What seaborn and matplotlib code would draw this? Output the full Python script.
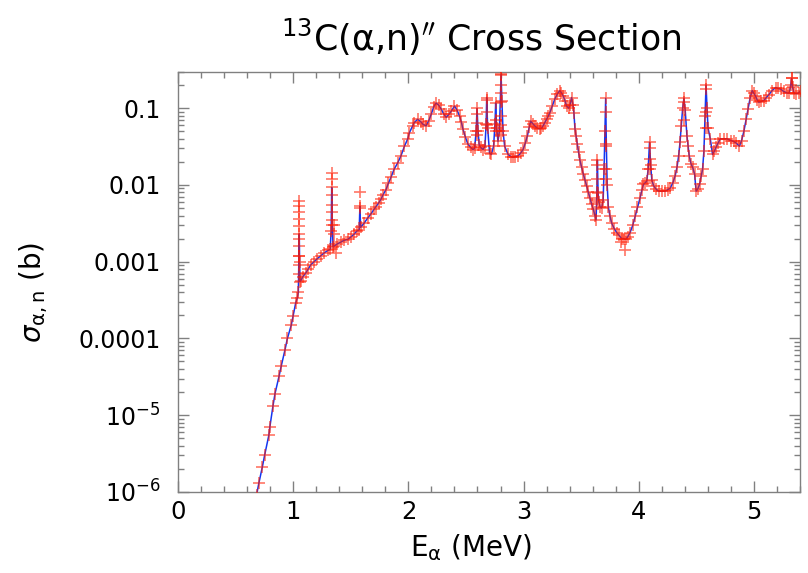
import matplotlib
matplotlib.use("Agg")
import matplotlib.pyplot as plt
import numpy as np
import seaborn as sns
from matplotlib.ticker import FixedLocator, FixedFormatter, LogLocator, MultipleLocator, NullFormatter

# R-matrix fit curve (E in MeV, sigma in barn)
fit_energy = [
    0.68, 0.70, 0.73, 0.75, 0.787, 0.796, 0.822, 0.84, 0.875, 0.895,
    0.927, 0.948, 0.982, 0.997, 1.02, 1.035, 1.043, 1.048, 1.051, 1.054,
    1.058, 1.064, 1.08, 1.107, 1.13, 1.151, 1.18, 1.209, 1.24, 1.267,
    1.30, 1.32, 1.328, 1.333, 1.338, 1.345, 1.354, 1.38, 1.412, 1.44,
    1.471, 1.50, 1.529, 1.55, 1.572, 1.578, 1.584, 1.616, 1.645, 1.674,
    1.70, 1.717, 1.74, 1.761, 1.78, 1.805, 1.825, 1.848, 1.875, 1.907,
    1.935, 1.965, 1.994, 2.008, 2.037, 2.05, 2.08, 2.11, 2.125, 2.153,
    2.175, 2.197, 2.22, 2.24, 2.262, 2.284, 2.305, 2.328, 2.35, 2.371,
    2.40, 2.422, 2.444, 2.46, 2.473, 2.495, 2.517, 2.54, 2.56, 2.575,
    2.588, 2.596, 2.605, 2.615, 2.627, 2.648, 2.665, 2.675, 2.68, 2.688,
    2.705, 2.72, 2.74, 2.752, 2.758, 2.766, 2.778, 2.79, 2.80, 2.805,
    2.812, 2.822, 2.836, 2.866, 2.89, 2.909, 2.93, 2.953, 2.975, 2.996,
    3.015, 3.034, 3.05, 3.063, 3.08, 3.098, 3.12, 3.141, 3.156, 3.17,
    3.185, 3.20, 3.215, 3.228, 3.25, 3.272, 3.295, 3.316, 3.33, 3.345,
    3.36, 3.374, 3.394, 3.405, 3.418, 3.43, 3.438, 3.447, 3.457, 3.467,
    3.478, 3.49, 3.505, 3.52, 3.535, 3.548, 3.562, 3.577, 3.592, 3.607,
    3.62, 3.63, 3.636, 3.642, 3.648, 3.655, 3.665, 3.679, 3.692, 3.70,
    3.707, 3.714, 3.72, 3.727, 3.737, 3.75, 3.766, 3.788, 3.81, 3.83,
    3.853, 3.87, 3.888, 3.905, 3.926, 3.95, 3.97, 3.99, 4.013, 4.028,
    4.042, 4.058, 4.071, 4.083, 4.095, 4.105, 4.115, 4.13, 4.15, 4.174,
    4.20, 4.23, 4.255, 4.275, 4.298, 4.318, 4.335, 4.348, 4.36, 4.371,
    4.383, 4.394, 4.405, 4.42, 4.43, 4.44, 4.455, 4.47, 4.487, 4.50,
    4.515, 4.53, 4.545, 4.556, 4.568, 4.578, 4.586, 4.595, 4.603, 4.623,
    4.643, 4.658, 4.673, 4.69, 4.71, 4.74, 4.769, 4.80, 4.827, 4.85,
    4.876, 4.895, 4.915, 4.935, 4.952, 4.97, 4.987, 5.0, 5.016, 5.03,
    5.045, 5.065, 5.089, 5.11, 5.133, 5.16, 5.19, 5.21, 5.234, 5.26,
    5.292, 5.31, 5.322, 5.33, 5.338, 5.35, 5.37, 5.39, 5.41,
]
fit_sigma = [
    9.1e-7, 1.3e-6, 2.1e-6, 3.0e-6, 5.5e-6, 7.1e-6, 1.3e-5, 1.9e-5, 3.2e-5, 4.4e-5,
    7.1e-5, 1.0e-4, 1.5e-4, 1.95e-4, 2.9e-4, 3.4e-4, 4.0e-4, 1.2e-3, 2.3e-3, 1.0e-3,
    5.5e-4, 5.6e-4, 6.3e-4, 7.1e-4, 8.1e-4, 9.1e-4, 1.0e-3, 1.1e-3, 1.2e-3, 1.3e-3,
    1.4e-3, 1.45e-3, 2.5e-3, 9.3e-3, 3.0e-3, 1.55e-3, 1.6e-3, 1.7e-3, 1.8e-3, 1.9e-3,
    1.95e-3, 2.1e-3, 2.3e-3, 2.5e-3, 2.6e-3, 5.3e-3, 2.8e-3, 3.2e-3, 3.7e-3, 4.2e-3,
    4.8e-3, 5.2e-3, 5.8e-3, 6.5e-3, 7.5e-3, 8.7e-3, 1.05e-2, 1.26e-2, 1.6e-2, 1.95e-2,
    2.4e-2, 3.2e-2, 4.0e-2, 4.8e-2, 5.9e-2, 6.5e-2, 7.2e-2, 6.6e-2, 6.2e-2, 5.9e-2,
    6.8e-2, 8.3e-2, 0.105, 0.117, 0.11, 0.098, 0.085, 0.076, 0.083, 0.091,
    0.107, 0.095, 0.079, 0.066, 0.054, 0.042, 0.034, 0.031, 0.029, 0.030,
    0.05, 0.10, 0.05, 0.033, 0.031, 0.029, 0.032, 0.063, 0.138, 0.056,
    0.026, 0.025, 0.032, 0.063, 0.117, 0.056, 0.037, 0.05, 0.16, 0.275,
    0.126, 0.05, 0.032, 0.025, 0.0235, 0.023, 0.0235, 0.024, 0.026, 0.029,
    0.035, 0.044, 0.057, 0.068, 0.063, 0.059, 0.055, 0.054, 0.055, 0.059,
    0.065, 0.072, 0.079, 0.087, 0.107, 0.132, 0.155, 0.17, 0.158, 0.145,
    0.126, 0.107, 0.10, 0.112, 0.138, 0.112, 0.087, 0.054, 0.043, 0.034,
    0.027, 0.021, 0.017, 0.0138, 0.0115, 0.0098, 0.0081, 0.0068, 0.0056, 0.0048,
    0.0040, 0.0035, 0.0063, 0.021, 0.0079, 0.0060, 0.0052, 0.0050, 0.0063, 0.016,
    0.05, 0.135, 0.032, 0.010, 0.0052, 0.0040, 0.0032, 0.0027, 0.0024, 0.0022,
    0.0020, 0.0020, 0.00195, 0.0021, 0.0024, 0.0030, 0.0039, 0.0051, 0.0068, 0.0085,
    0.0102, 0.0107, 0.0112, 0.016, 0.036, 0.018, 0.0117, 0.0098, 0.0089, 0.0083,
    0.0083, 0.0083, 0.0087, 0.0091, 0.0107, 0.0132, 0.0174, 0.024, 0.036, 0.059,
    0.10, 0.135, 0.095, 0.044, 0.032, 0.024, 0.019, 0.017, 0.0138, 0.0083,
    0.0089, 0.0102, 0.0132, 0.016, 0.028, 0.079, 0.20, 0.10, 0.056, 0.040,
    0.025, 0.0275, 0.031, 0.035, 0.040, 0.040, 0.040, 0.038, 0.037, 0.035,
    0.032, 0.038, 0.05, 0.072, 0.098, 0.138, 0.17, 0.158, 0.145, 0.129,
    0.12, 0.123, 0.126, 0.138, 0.151, 0.17, 0.186, 0.182, 0.178, 0.166,
    0.158, 0.158, 0.20, 0.245, 0.19, 0.158, 0.155, 0.158, 0.17,
]

# measured points that stand off the fit at the narrow resonances
spike_energy = [
    1.05, 1.05, 1.05, 1.05, 1.05, 1.05, 1.05, 1.05, 1.05, 1.05,
    1.333, 1.333, 1.333, 1.333, 1.333, 1.333, 1.35, 1.35, 1.37,
    1.58, 1.58,
    2.596, 2.596, 2.596, 2.68, 2.68, 2.68, 2.758, 2.758,
    2.805, 2.805, 2.805, 2.805, 2.805, 2.805,
    3.642, 3.642, 3.642, 3.714, 3.714, 3.714, 3.714,
    3.85, 3.88,
    4.095, 4.095, 4.095, 4.394, 4.394,
    4.586, 4.586, 4.586, 5.33,
]
spike_sigma = [
    6.2e-3, 5.3e-3, 4.4e-3, 3.6e-3, 2.9e-3, 2.0e-3, 1.6e-3, 1.2e-3, 9.0e-4, 7.0e-4,
    1.45e-2, 1.2e-2, 7.5e-3, 5.5e-3, 4.5e-3, 3.5e-3, 3.0e-3, 2.3e-3, 1.3e-3,
    8.0e-3, 5.0e-3,
    0.085, 0.065, 0.045, 0.13, 0.09, 0.06, 0.07, 0.05,
    0.28, 0.2, 0.12, 0.08, 0.06, 0.045,
    0.018, 0.012, 0.008, 0.089, 0.034, 0.016, 0.012,
    0.0018, 0.0014,
    0.03, 0.022, 0.016, 0.12, 0.07,
    0.18, 0.09, 0.055, 0.25,
]

y_tick_values = [1e-6, 1e-5, 1e-4, 1e-3, 1e-2, 1e-1]
y_tick_labels = [r"$10^{-6}$", r"$10^{-5}$", "0.0001", "0.001", "0.01", "0.1"]

sns.set_style("ticks")
plt.rcParams["font.family"] = ["DejaVu Sans"]
plt.rcParams["mathtext.fontset"] = "dejavusans"
plt.rcParams["text.color"] = "black"

fig = plt.figure(figsize=(8.08, 5.73), dpi=100)
ax = fig.add_axes([0.2207, 0.1417, 0.769, 0.7332])

sns.lineplot(x=fit_energy, y=fit_sigma, sort=False, estimator=None,
             color="#1536f0", linewidth=1.1, ax=ax, zorder=2)

marker_energy = fit_energy + spike_energy
marker_sigma = fit_sigma + spike_sigma
sns.scatterplot(x=marker_energy, y=marker_sigma, marker="+", s=75,
                color="#ff1a00", alpha=0.6, linewidth=1.2, ax=ax, zorder=3)

ax.set_yscale("log")
ax.set_xlim(0, 5.4)
ax.set_ylim(1e-6, 0.3)

ax.xaxis.set_major_locator(MultipleLocator(1))
ax.xaxis.set_minor_locator(MultipleLocator(0.2))
ax.yaxis.set_major_locator(FixedLocator(y_tick_values))
ax.yaxis.set_major_formatter(FixedFormatter(y_tick_labels))
ax.yaxis.set_minor_locator(LogLocator(base=10, subs=np.arange(2, 10)))
ax.yaxis.set_minor_formatter(NullFormatter())

grey = "#808080"
for side in ["left", "right", "top", "bottom"]:
    ax.spines[side].set_visible(True)
    ax.spines[side].set_color(grey)
    ax.spines[side].set_linewidth(1.0)

ax.tick_params(which="both", direction="in", top=True, right=True, color=grey, width=1.0)
ax.tick_params(which="major", length=8)
ax.tick_params(which="minor", length=4)
ax.tick_params(axis="x", which="major", labelsize=17.5, pad=6, labelcolor="black")
ax.tick_params(axis="y", which="major", labelsize=17, pad=13, labelcolor="black")

ax.set_xlabel("")
ax.set_ylabel("")

fig.text(481 / 808, 1 - 51 / 573, r"$^{13}$C(α,n)$^{\prime\prime}$ Cross Section",
         ha="center", va="baseline", fontsize=25, color="black")
fig.text(471 / 808, 1 - 556 / 573, r"E$_{\mathrm{\alpha}}$ (MeV)",
         ha="center", va="baseline", fontsize=20, color="black")
fig.text(34 / 808, 1 - 292 / 573, r"$\sigma_{\mathrm{\alpha,n}}$ (b)",
         ha="center", va="center", rotation=90, fontsize=20, color="black")

fig.savefig("out.png", dpi=100)
